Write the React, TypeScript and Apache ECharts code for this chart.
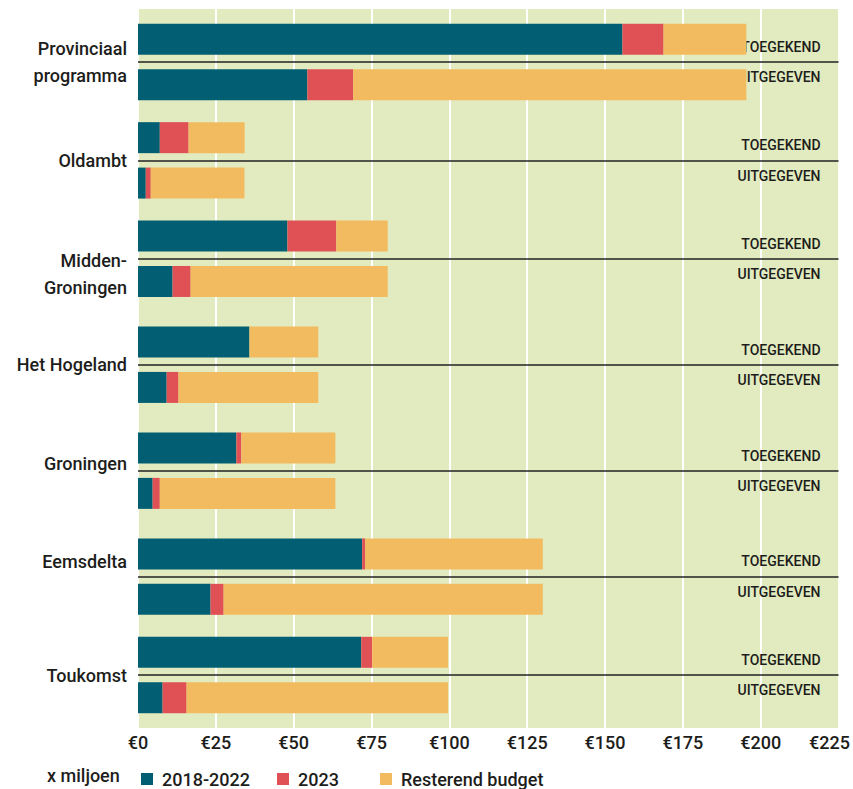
import React, { useEffect, useRef } from "react";
import * as echarts from "echarts";

// ---- data (values in € million) ----
const groupLabels = [
  "Provinciaal\nprogramma",
  "Oldambt",
  "Midden-\nGroningen",
  "Het Hogeland",
  "Groningen",
  "Eemsdelta",
  "Toukomst",
];
const rowLabels = ["TOEGEKEND", "UITGEGEVEN"];
const seriesNames = ["2018-2022", "2023", "Resterend budget"];

const toegekend20182022 = [155.6, 7.0, 48.0, 35.8, 31.6, 72.0, 71.7];
const toegekend2023 = [13.2, 9.25, 15.7, 0, 1.6, 1.0, 3.5];
const toegekendRest = [26.6, 18.0, 16.5, 22.1, 30.2, 57.0, 24.4];

const uitgegeven20182022 = [54.4, 2.5, 11.1, 9.2, 4.7, 23.3, 7.9];
const uitgegeven2023 = [14.7, 1.6, 5.8, 3.8, 2.3, 4.2, 7.7];
const uitgegevenRest = [126.3, 30.1, 63.3, 44.9, 56.4, 102.5, 84.0];

const xMin = 0;
const xMax = 225;
const xStep = 25;
const unitLabel = "x miljoen";

// ---- layout (vertical slot grid) ----
const SLOT_COUNT = 96;
const groupStartSlots = [4, 17, 30, 44, 58, 72, 85];
const groupLabelSlots = [7, 20, 35, 47, 60, 73, 88];
const ROW_OFFSET = 6;

const colors = ["#025e72", "#e05155", "#f2bb5f"];
const textColor = "#1d1d1b";
const FONT = "Roboto, 'Noto Sans', sans-serif";
const WEIGHT = 500;

export default function App() {
  const ref = useRef<HTMLDivElement>(null);

  useEffect(() => {
    document.body.style.margin = "0";
    if (!ref.current) return;
    const chart = echarts.init(ref.current, undefined, { renderer: "svg" });

    const slots = Array.from({ length: SLOT_COUNT }, (_, i) => "slot" + i);
    const leftLabels: string[] = Array(SLOT_COUNT).fill("");
    const rightLabels: string[] = Array(SLOT_COUNT).fill("");
    groupLabelSlots.forEach((s, g) => (leftLabels[s] = groupLabels[g]));
    groupStartSlots.forEach((s) => {
      rightLabels[s + 1] = rowLabels[0];
      rightLabels[s + ROW_OFFSET - 1] = rowLabels[1];
    });
    const sepSlots = groupStartSlots.map((s) => s + ROW_OFFSET / 2);

    const toeg = [toegekend20182022, toegekend2023, toegekendRest];
    const uitg = [uitgegeven20182022, uitgegeven2023, uitgegevenRest];

    const series: any[] = seriesNames.map((name, k) => {
      const data: any[] = Array(SLOT_COUNT).fill("-");
      groupStartSlots.forEach((s, g) => {
        data[s] = toeg[k][g];
        data[s + ROW_OFFSET] = uitg[k][g];
      });
      const ser: any = {
        name,
        type: "bar",
        stack: "total",
        barWidth: 31,
        data,
        itemStyle: { color: colors[k] },
        yAxisIndex: 0,
      };
      if (k === 0) {
        ser.markLine = {
          silent: true,
          symbol: "none",
          label: { show: false },
          lineStyle: { color: "#222", width: 1.5, type: "solid" },
          data: sepSlots.map((s) => ({ yAxis: "slot" + s })),
        };
      }
      return ser;
    });

    const legendLefts = [136, 272, 375];

    chart.setOption({
      animation: false,
      grid: {
        left: 138,
        right: 12,
        top: 9,
        bottom: 61,
        show: true,
        backgroundColor: "#e2ebc0",
        borderWidth: 0,
      },
      xAxis: {
        type: "value",
        min: xMin,
        max: xMax,
        interval: xStep,
        axisLine: { show: false },
        axisTick: { show: false },
        splitLine: { show: true, lineStyle: { color: "#ffffff", width: 2 } },
        axisLabel: {
          color: textColor,
          fontFamily: FONT,
          fontWeight: WEIGHT,
          fontSize: 18,
          margin: 5,
          formatter: (v: number) =>
            v === xMax ? "{last|€" + v + "}" : "€" + v,
          rich: {
            last: {
              color: textColor,
              fontFamily: FONT,
              fontWeight: WEIGHT,
              fontSize: 18,
              padding: [0, 18, 0, 0],
            },
          },
        },
      },
      yAxis: [
        {
          type: "category",
          data: slots,
          inverse: true,
          boundaryGap: false,
          axisLine: { show: false },
          axisTick: { show: false },
          splitLine: { show: false },
          axisLabel: {
            interval: 0,
            margin: 11,
            color: textColor,
            fontFamily: FONT,
            fontWeight: WEIGHT,
            fontSize: 18,
            lineHeight: 27,
            formatter: (_v: string, i: number) => leftLabels[i],
          },
        },
        {
          type: "category",
          data: slots,
          inverse: true,
          boundaryGap: false,
          position: "right",
          axisLine: { show: false },
          axisTick: { show: false },
          splitLine: { show: false },
          axisLabel: {
            interval: 0,
            inside: true,
            margin: 18,
            color: textColor,
            fontFamily: FONT,
            fontWeight: WEIGHT,
            fontSize: 14,
            formatter: (_v: string, i: number) => rightLabels[i],
          },
        },
      ],
      legend: seriesNames.map((name, k) => ({
        data: [name],
        left: legendLefts[k],
        top: 765,
        icon: "rect",
        itemWidth: 12,
        itemHeight: 12,
        selectedMode: false,
        textStyle: {
          color: textColor,
          fontFamily: FONT,
          fontWeight: WEIGHT,
          fontSize: 18,
          padding: [0, 0, 0, 4],
        },
      })),
      graphic: [
        {
          type: "text",
          left: 47,
          top: 766,
          style: {
            text: unitLabel,
            fill: textColor,
            font: WEIGHT + " 18px " + FONT,
          },
        },
      ],
      series,
    });

    return () => chart.dispose();
  }, []);

  return <div ref={ref} style={{ width: 853, height: 789 }} />;
}
